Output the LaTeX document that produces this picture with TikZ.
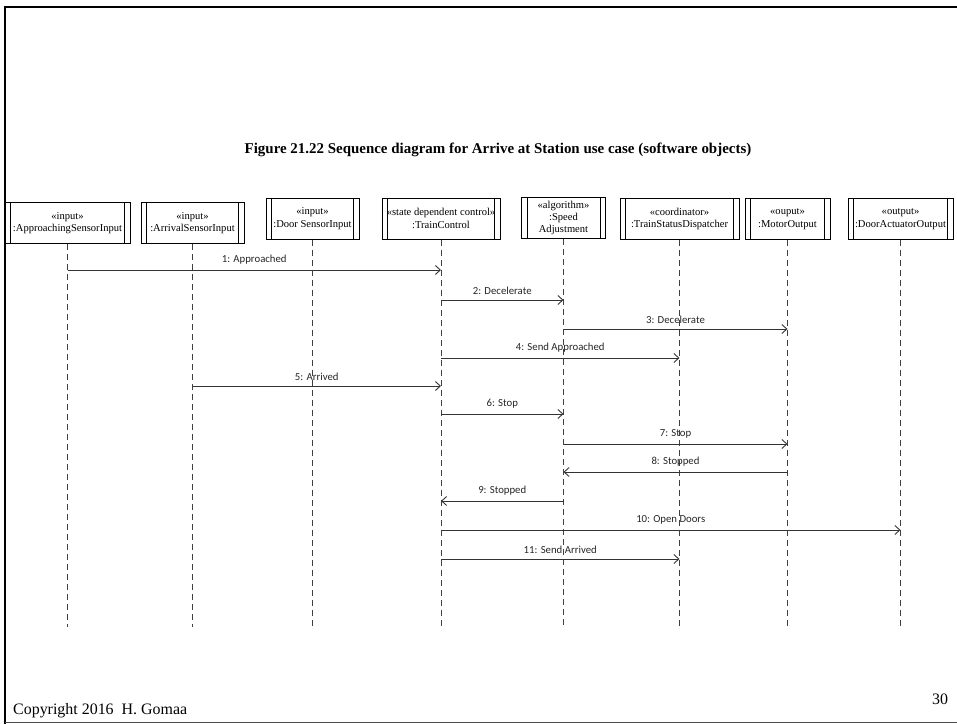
\documentclass[tikz,border=0pt]{standalone}
\usepackage{fontspec}
\setmainfont{Liberation Serif}
\newfontfamily\msgfont{Carlito}
\usetikzlibrary{arrows.meta}
\begin{document}
\begin{tikzpicture}[x=1bp,y=-1bp,
  objbox/.style={draw=black, line width=1bp, minimum height=41bp, inner sep=0pt,
    align=center, font=\fontsize{10.6}{12.5}\selectfont},
  lifeline/.style={draw=black!75, dash pattern=on 6bp off 4bp, line width=0.9bp},
  msg/.style={draw=black!80, line width=0.9bp, -{Straight Barb[length=5bp,width=9bp]}},
  msglabel/.style={font=\msgfont\fontsize{10.8}{12}\selectfont, above=2bp, text=black!85},
]
\useasboundingbox (0,0) rectangle (957,724);

% slide frame
\draw[line width=2.5bp] (957,7) -- (5,7) -- (5,724);
\draw[line width=1bp, black!70] (5,722) -- (957,722);

% title
\node[font=\bfseries\fontsize{15}{18}\selectfont] (title) at (498,150)
  {Figure 21.22 Sequence diagram for Arrive at Station use case (software objects)};

% objects (active objects: double side lines)
\node[objbox, minimum width=125bp] (o1) at (67.5,223) {«input»\\:ApproachingSensorInput};
\node[objbox, minimum width=103bp] (o2) at (192.5,223) {«input»\\:ArrivalSensorInput};
\node[objbox, minimum width=93bp]  (o3) at (312.5,218.5) {«input»\\:Door SensorInput};
\node[objbox, minimum width=118bp] (o4) at (441,218.5) {«state dependent control»\\:TrainControl};
\node[objbox, minimum width=84bp]  (o5) at (563.5,218) {«algorithm»\\:Speed\\Adjustment};
\node[objbox, minimum width=119bp] (o6) at (679.5,219) {«coordinator»\\:TrainStatusDispatcher};
\node[objbox, minimum width=85bp]  (o7) at (787.5,219) {«ouput»\\:MotorOutput};
\node[objbox, minimum width=105bp] (o8) at (900.5,219) {«output»\\:DoorActuatorOutput};

\foreach \o in {o1,o2,o3,o4,o5,o6,o7,o8} {
  \draw[line width=1bp] ([xshift=6bp]\o.north west) -- ([xshift=6bp]\o.south west);
  \draw[line width=1bp] ([xshift=-6bp]\o.north east) -- ([xshift=-6bp]\o.south east);
  \coordinate (\o end) at (\o.south |- 0,627);
  \draw[lifeline] (\o.south) -- (\o end);
}

% messages
\draw[msg] (o1.south |- 0,270) -- node[msglabel]{1: Approached} (o4.south |- 0,270);
\draw[msg] (o4.south |- 0,300) -- node[msglabel]{2: Decelerate} (o5.south |- 0,300);
\draw[msg] (o5.south |- 0,329) -- node[msglabel]{3: Decelerate} (o7.south |- 0,329);
\draw[msg] (o4.south |- 0,358) -- node[msglabel]{4: Send Approached} (o6.south |- 0,358);
\draw[msg] (o2.south |- 0,386) -- node[msglabel]{5: Arrived} (o4.south |- 0,386);
\draw[msg] (o4.south |- 0,414) -- node[msglabel]{6: Stop} (o5.south |- 0,414);
\draw[msg] (o5.south |- 0,444) -- node[msglabel]{7: Stop} (o7.south |- 0,444);
\draw[msg] (o7.south |- 0,472) -- node[msglabel]{8: Stopped} (o5.south |- 0,472);
\draw[msg] (o5.south |- 0,501) -- node[msglabel]{9: Stopped} (o4.south |- 0,501);
\draw[msg] (o4.south |- 0,530) -- node[msglabel]{10: Open Doors} (o8.south |- 0,530);
\draw[msg] (o4.south |- 0,559) -- node[msglabel]{11: Send Arrived} (o6.south |- 0,559);

% footer
\node[anchor=west, font=\fontsize{16}{18}\selectfont, inner sep=0pt] (copy) at (13,711)
  {Copyright 2016\ \ H. Gomaa};
\node[font=\fontsize{16}{18}\selectfont, inner sep=0pt] (page) at (940,699) {30};
\end{tikzpicture}
\end{document}
